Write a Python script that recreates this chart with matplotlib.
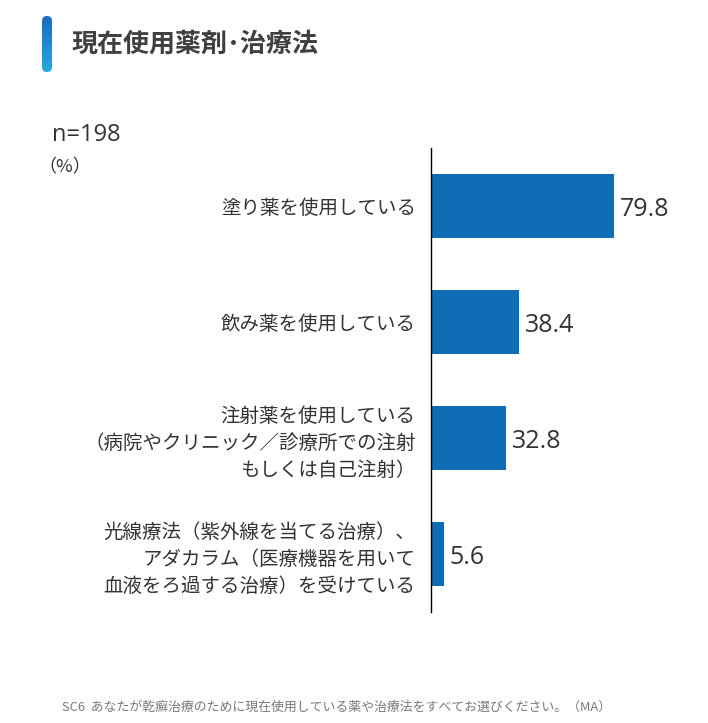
import matplotlib
matplotlib.use("Agg")
import matplotlib.pyplot as plt
from matplotlib.patches import FancyBboxPatch
from matplotlib.colors import LinearSegmentedColormap
from matplotlib.transforms import offset_copy
import numpy as np

plt.rcParams['font.family'] = ['Noto Sans CJK JP', 'DejaVu Sans']

categories = [
    "塗り薬を使用している",
    "飲み薬を使用している",
    "注射薬を使用している\n（病院やクリニック／診療所での注射\nもしくは自己注射）",
    "光線療法（紫外線を当てる治療）、\nアダカラム（医療機器を用いて\n血液をろ過する治療）を受けている",
]
values = [79.8, 38.4, 32.8, 5.6]
value_labels = ["79.8", "38.4", "32.8", "5.6"]

title = "現在使用薬剤･治療法"
n_text = "n=198"
unit_text = "（%）"
footer = "SC6  あなたが乾癬治療のために現在使用している薬や治療法をすべてお選びください。（MA）"

W, H = 708, 723
fig = plt.figure(figsize=(W / 100, H / 100), dpi=100)
fig.patch.set_facecolor("white")

ax = fig.add_axes([431 / W, 1 - 612 / H, (700 - 431) / W, (612 - 148) / H])
y = np.arange(len(values))
bar_color = "#0F6DB5"
ax.barh(y, values, height=0.55, color=bar_color)
ax.set_ylim(len(values) - 0.5, -0.5)
ax.set_xlim(0, (700 - 431) / 2.293)
for s in ["top", "right", "bottom"]:
    ax.spines[s].set_visible(False)
ax.spines["left"].set_color("#000000")
ax.spines["left"].set_linewidth(1.0)
ax.set_xticks([])
ax.set_yticks(y)
ax.set_yticklabels(categories, fontsize=14, color="#333333", linespacing=1.38)
ax.tick_params(axis="y", length=0, pad=11)
label_tr = offset_copy(ax.transData, fig=fig, x=0, y=-2.5, units="points")
for yi, v, lab in zip(y, values, value_labels):
    ax.text(v + 2.6, yi, lab, va="center", ha="left", fontsize=18, transform=label_tr,
            family=["Open Sans", "DejaVu Sans"], color="#333333")

# title bar with gradient
bar_ax = fig.add_axes([42 / W, 1 - 72 / H, 10 / W, 56 / H])
bar_ax.set_axis_off()
grad = np.linspace(0, 1, 100).reshape(-1, 1)
cmap = LinearSegmentedColormap.from_list("tb", ["#1A6CBF", "#27A9E1"])
im = bar_ax.imshow(grad, aspect="auto", cmap=cmap, extent=[0, 1, 0, 1], origin="upper")
clip = FancyBboxPatch((0.0, 0.0), 1, 1, boxstyle="round,pad=0,rounding_size=0.5",
                      transform=bar_ax.transAxes, facecolor="none", edgecolor="none",
                      mutation_aspect=10 / 56)
bar_ax.add_patch(clip)
im.set_clip_path(clip)
bar_ax.set_xlim(0, 1)
bar_ax.set_ylim(0, 1)

fig.text(72 / W, 1 - 44 / H, title, fontsize=18.7, fontweight="bold", color="#404040",
         va="center", ha="left")
fig.text(52 / W, 1 - 135 / H, n_text, fontsize=17, family=["Open Sans", "DejaVu Sans"],
         color="#333333", va="center", ha="left")
fig.text(38 / W, 1 - 167 / H, unit_text, fontsize=13, color="#333333", va="center", ha="left")
fig.text(62 / W, 1 - 707 / H, footer, fontsize=9.3, color="#7a7a7a", va="center", ha="left")

fig.savefig("out.png", dpi=100, facecolor="white")
